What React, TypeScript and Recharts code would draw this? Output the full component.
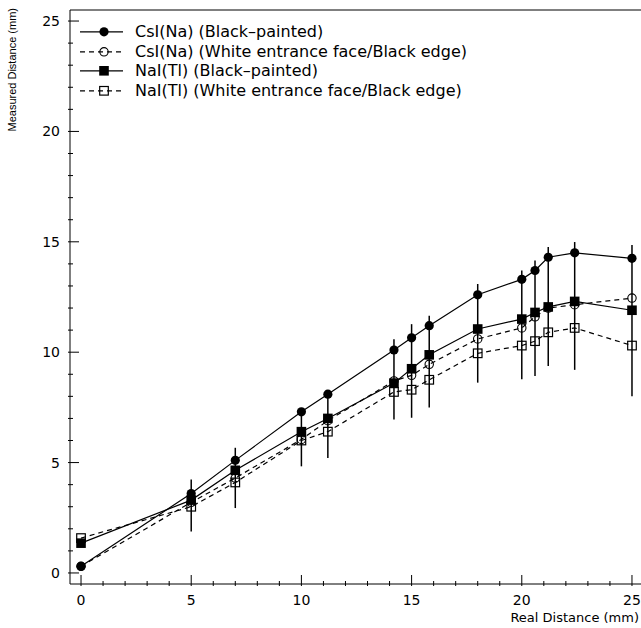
import { LineChart, Line, XAxis, YAxis, ErrorBar, ReferenceLine } from "recharts";

const REAL = [0, 5, 7, 10, 11.2, 14.2, 15, 15.8, 18, 20, 20.6, 21.2, 22.4, 25];
const CSI_BLACK = [0.3, 3.6, 5.1, 7.3, 8.1, 10.1, 10.65, 11.2, 12.6, 13.3, 13.7, 14.3, 14.5, 14.25];
const CSI_WHITE = [0.3, 3.2, 4.3, 6.05, 6.9, 8.7, 8.95, 9.45, 10.6, 11.1, 11.6, 12.0, 12.15, 12.45];
const NAI_BLACK = [1.35, 3.3, 4.65, 6.4, 7.0, 8.6, 9.25, 9.88, 11.05, 11.5, 11.8, 12.05, 12.3, 11.9];
const NAI_WHITE = [1.58, 3.0, 4.1, 6.0, 6.4, 8.2, 8.3, 8.75, 9.95, 10.3, 10.5, 10.9, 11.1, 10.3];
// error bar reach below / above the white-face CsI points
const ERR_LOW = [0, 1.32, 1.36, 1.22, 1.69, 1.75, 1.92, 1.96, 1.98, 2.33, 2.68, 2.62, 2.95, 4.45];
const ERR_HIGH = [0, 1.03, 1.37, 1.35, 1.3, 1.89, 2.32, 2.2, 2.49, 2.6, 2.55, 2.76, 2.84, 2.41];

const X_TICKS = Array.from({ length: 26 }, (_, i) => i);
const Y_TICKS = Array.from({ length: 26 }, (_, i) => i);

const SERIES = [
  { key: "csiBlack", name: "CsI(Na) (Black\u2013painted)", dashed: false, marker: "filledCircle" },
  { key: "csiWhite", name: "CsI(Na) (White entrance face/Black edge)", dashed: true, marker: "openCircle" },
  { key: "naiBlack", name: "NaI(Tl) (Black\u2013painted)", dashed: false, marker: "filledSquare" },
  { key: "naiWhite", name: "NaI(Tl) (White entrance face/Black edge)", dashed: true, marker: "openSquare" },
];

const data = REAL.map((x, i) => ({
  x,
  csiBlack: CSI_BLACK[i],
  csiWhite: CSI_WHITE[i],
  naiBlack: NAI_BLACK[i],
  naiWhite: NAI_WHITE[i],
  err: [ERR_LOW[i], ERR_HIGH[i]],
}));

const FONT = "'DejaVu Sans', sans-serif";

function Marker({ kind, cx, cy }: { kind: string; cx: number; cy: number }) {
  if (kind === "filledCircle") return <circle cx={cx} cy={cy} r={4.6} fill="#000" />;
  if (kind === "openCircle")
    return <circle cx={cx} cy={cy} r={4.2} fill="none" stroke="#000" strokeWidth={1.1} />;
  if (kind === "filledSquare")
    return <rect x={cx - 4.8} y={cy - 4.8} width={9.6} height={9.6} fill="#000" />;
  return <rect x={cx - 4.3} y={cy - 4.3} width={8.6} height={8.6} fill="none" stroke="#000" strokeWidth={1.2} />;
}

const XTick = ({ x, y, payload }: any) => {
  const major = payload.value % 5 === 0;
  return (
    <g>
      <line x1={x} x2={x} y1={y} y2={y - (major ? 11 : 5)} stroke="#000" />
      {major && (
        <text x={x} y={y + 19} textAnchor="middle" fontSize={14} fontFamily={FONT} fill="#000">
          {payload.value}
        </text>
      )}
    </g>
  );
};

const YTick = ({ x, y, payload }: any) => {
  const major = payload.value % 5 === 0;
  return (
    <g>
      <line x1={x} x2={x + (major ? 11 : 5)} y1={y} y2={y} stroke="#000" />
      {major && (
        <text x={x - 8} y={y + 5} textAnchor="end" fontSize={14} fontFamily={FONT} fill="#000">
          {payload.value}
        </text>
      )}
    </g>
  );
};

function LegendBox() {
  return (
    <div style={{ position: "absolute", left: 78, top: 22, fontFamily: FONT, fontSize: 16 }}>
      {SERIES.map((s) => (
        <div key={s.key} style={{ display: "flex", alignItems: "center", height: 19.6 }}>
          <svg width={50} height={19.6}>
            <line
              x1={2}
              x2={45}
              y1={9.8}
              y2={9.8}
              stroke="#000"
              strokeWidth={1.2}
              strokeDasharray={s.dashed ? "5 4" : undefined}
            />
            <Marker kind={s.marker} cx={26} cy={9.8} />
          </svg>
          <span style={{ marginLeft: 7, whiteSpace: "nowrap", lineHeight: "19.6px" }}>{s.name}</span>
        </div>
      ))}
    </div>
  );
}

export default function App() {
  return (
    <div
      style={{
        position: "absolute",
        left: 0,
        top: 0,
        width: 641,
        height: 628,
        overflow: "hidden",
        background: "#fff",
      }}
    >
      <LineChart width={660} height={628} data={data} margin={{ top: 10, right: 17, left: 10, bottom: 14 }}>
        <XAxis
          type="number"
          dataKey="x"
          domain={[-0.5, 25.5]}
          ticks={X_TICKS}
          interval={0}
          tickSize={0}
          tick={(p: any) => <XTick {...p} />}
          stroke="#000"
          height={30}
          allowDataOverflow
          label={{
            content: ({ viewBox }: any) => (
              <text
                x={639}
                y={viewBox.y + 38}
                textAnchor="end"
                fontSize={13}
                fontFamily={FONT}
                fill="#000"
              >
                Real Distance (mm)
              </text>
            ),
          }}
        />
        <YAxis
          type="number"
          domain={[-0.5, 25.5]}
          ticks={Y_TICKS}
          interval={0}
          tickSize={0}
          tick={(p: any) => <YTick {...p} />}
          stroke="#000"
          width={60}
          allowDataOverflow
          label={{
            content: () => (
              <text
                x={16}
                y={8}
                transform="rotate(-90 16 8)"
                textAnchor="end"
                fontSize={11}
                fontFamily="'Liberation Sans', sans-serif"
                fill="#000"
              >
                Measured Distance (mm)
              </text>
            ),
          }}
        />
        <ReferenceLine y={25.5} stroke="#000" />
        {SERIES.map((s) => (
          <Line
            key={s.key}
            type="linear"
            dataKey={s.key}
            stroke="#000"
            strokeWidth={1.2}
            strokeDasharray={s.dashed ? "5 4" : undefined}
            isAnimationActive={false}
            dot={(p: any) => <Marker key={p.index} kind={s.marker} cx={p.cx} cy={p.cy} />}
            activeDot={false}
          >
            {s.key === "csiWhite" && (
              <ErrorBar dataKey="err" direction="y" width={0} stroke="#000" strokeWidth={1.5} />
            )}
          </Line>
        ))}
      </LineChart>
      <LegendBox />
    </div>
  );
}
